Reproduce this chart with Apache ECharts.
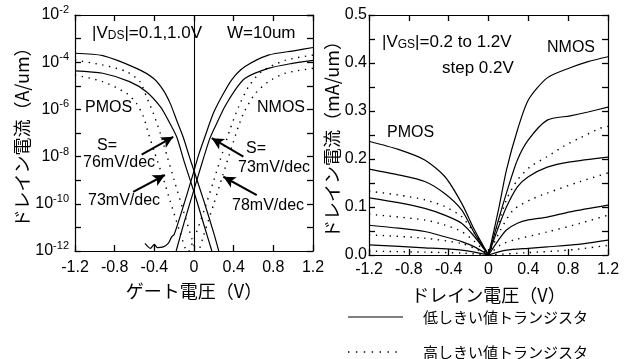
<!DOCTYPE html>
<html>
<head>
<meta charset="utf-8">
<script src="https://cdn.jsdelivr.net/npm/echarts@6/dist/echarts.min.js"></script>
<style>
  html, body { margin: 0; padding: 0; background: #fff; }
  #chart { width: 629px; height: 359px; }
</style>
</head>
<body>
<div id="chart"></div>
<script>
// ---- Transfer characteristics: drain current (A/um) vs gate voltage (V) ----
const pmosLowVd10 = [[-1.2,2.4e-4],[-0.92,1.9e-4],[-0.58,5.5e-5],[-0.41,2.1e-5],[-0.31,6.6e-6],[-0.24,1.8e-6],[-0.175,3.5e-7],[-0.11,6.9e-8],[-0.05,1.1e-8],[0,2.5e-9],[0.1,1.3e-10],[0.2,5.6e-12],[0.25,1e-12]];
const pmosLowVd01 = [[-1.2,4.3e-5],[-0.92,3.4e-5],[-0.65,1.5e-5],[-0.48,5.6e-6],[-0.34,1.3e-6],[-0.26,3.5e-7],[-0.175,6.9e-8],[-0.1,6.3e-9],[0,3.2e-10],[0.1,1.3e-11],[0.18,1e-12]];
const pmosHighVd10 = [[-1.2,1.23e-4],[-0.92,7.6e-5],[-0.68,4e-5],[-0.545,1.5e-5],[-0.48,3.5e-6],[-0.41,6.8e-7],[-0.34,9.8e-8],[-0.27,1e-8],[-0.2,1e-9],[-0.1,4e-11],[-0.02,3.2e-12],[0.02,1e-12]];
const pmosHighVd01 = [[-1.2,2.9e-5],[-0.92,1.5e-5],[-0.68,4.8e-6],[-0.58,1.8e-6],[-0.51,4.9e-7],[-0.46,9.8e-8],[-0.4,1.6e-8],[-0.32,1.6e-9],[-0.24,1.3e-10],[-0.15,7.9e-12],[-0.08,1e-12]];
const nmosLowVd10 = [[1.2,4.2e-4],[1.02,3.1e-4],[0.75,2.0e-4],[0.515,6.5e-5],[0.38,1.8e-5],[0.28,3.5e-6],[0.195,6.8e-7],[0.11,6.9e-8],[0.05,1.3e-8],[0,2.5e-9],[-0.1,1e-10],[-0.2,5e-12],[-0.225,4e-12],[-0.26,2.1e-12],[-0.31,1.5e-12],[-0.37,1.4e-12],[-0.40,1.9e-12],[-0.44,1.3e-12],[-0.495,2.1e-12]];
const nmosLowVd01 = [[1.2,1.2e-4],[0.99,8.9e-5],[0.75,5.5e-5],[0.515,2.1e-5],[0.414,6.6e-6],[0.31,1.3e-6],[0.23,2.6e-7],[0.16,5.9e-8],[0.05,2e-9],[0,4e-10],[-0.1,1.6e-11],[-0.18,1e-12]];
const nmosHighVd10 = [[1.2,2.0e-4],[0.92,1.2e-4],[0.68,4e-5],[0.55,9.1e-6],[0.45,1.3e-6],[0.36,1.3e-7],[0.29,1.6e-8],[0.2,1e-9],[0.1,5e-11],[0,3.2e-12],[-0.05,1e-12]];
const nmosHighVd01 = [[1.2,5.5e-5],[0.92,3.4e-5],[0.75,1.5e-5],[0.62,4.8e-6],[0.515,9.3e-7],[0.45,2e-7],[0.38,2.5e-8],[0.29,1.6e-9],[0.2,1e-10],[0.1,5e-12],[0.05,1e-12]];

// ---- Output characteristics: |drain current| (mA/um) vs drain voltage (V), |VGS| = 0.2..1.2 V ----
const nmosLowOut = [
  [[0,0],[0.1,0.094],[0.18,0.177],[0.29,0.26],[0.40,0.323],[0.59,0.369],[0.82,0.39],[1.0,0.403],[1.2,0.413]],
  [[0,0],[0.1,0.073],[0.18,0.129],[0.29,0.198],[0.40,0.24],[0.59,0.281],[0.82,0.29],[1.0,0.298],[1.2,0.308]],
  [[0,0],[0.1,0.058],[0.18,0.1],[0.29,0.142],[0.40,0.163],[0.59,0.183],[0.82,0.194],[1.2,0.204]],
  [[0,0],[0.1,0.031],[0.18,0.052],[0.29,0.066],[0.4,0.073],[0.59,0.079],[0.82,0.09],[1.2,0.104]],
  [[0,0],[0.18,0.01],[0.4,0.014],[0.59,0.017],[0.9,0.022],[1.2,0.031]]
];
const nmosHighOut = [
  [[0,0],[0.08,0.052],[0.18,0.115],[0.29,0.156],[0.42,0.184],[0.59,0.205],[0.75,0.226],[0.92,0.244],[1.12,0.264],[1.2,0.268]],
  [[0,0],[0.12,0.052],[0.25,0.094],[0.42,0.115],[0.59,0.129],[0.92,0.153],[1.2,0.171]],
  [[0,0],[0.12,0.021],[0.25,0.031],[0.59,0.048],[0.92,0.066],[1.2,0.083]],
  [[0,0],[0.4,0.005],[0.8,0.01],[1.2,0.02]]
];
const pmosLowOut = [
  [[-1.2,0.237],[-0.906,0.220],[-0.64,0.198],[-0.437,0.163],[-0.27,0.108],[-0.14,0.052],[0,0]],
  [[-1.2,0.179],[-0.906,0.167],[-0.64,0.153],[-0.44,0.128],[-0.27,0.094],[-0.14,0.045],[0,0]],
  [[-1.2,0.119],[-0.906,0.109],[-0.64,0.097],[-0.44,0.083],[-0.27,0.066],[-0.14,0.038],[0,0]],
  [[-1.2,0.062],[-0.906,0.056],[-0.64,0.049],[-0.44,0.038],[-0.27,0.028],[-0.14,0.017],[0,0]],
  [[-1.2,0.021],[-0.64,0.015],[-0.27,0.01],[0,0]]
];
const pmosHighOut = [
  [[-1.2,0.133],[-0.906,0.125],[-0.64,0.115],[-0.44,0.101],[-0.27,0.08],[-0.14,0.045],[0,0]],
  [[-1.2,0.085],[-0.64,0.073],[-0.44,0.0625],[-0.27,0.049],[-0.14,0.028],[0,0]],
  [[-1.2,0.042],[-0.64,0.035],[-0.27,0.024],[-0.14,0.014],[0,0]],
  [[-1.2,0.008],[-0.64,0.006],[-0.27,0.004],[0,0]]
];

// slope annotations: arrow tail/head in data coordinates (V, A/um)
const slopeArrows = [
  [[-0.528,1.2e-8],[-0.209,6.9e-8]],
  [[-0.613,3.2e-10],[-0.293,1.66e-9]],
  [[0.498,1.0e-8],[0.179,6.0e-8]],
  [[0.633,2.35e-10],[0.296,1.4e-9]]
];

const LOW = '低しきい値トランジスタ';
const HIGH = '高しきい値トランジスタ';
const FONT = '"Liberation Sans", Arial, "Noto Sans CJK JP", sans-serif';
const JFONT = '"Noto Sans CJK JP", "Liberation Sans", sans-serif';

const solid = () => ({ color: '#000', width: 1.2, type: 'solid' });
const dotted = () => ({ color: '#000', width: 1.4, type: [1.4, 5.5] });

function curve(name, data, xi, style, extra) {
  return Object.assign({
    type: 'line', name: name, data: data, xAxisIndex: xi, yAxisIndex: xi * 2,
    showSymbol: false, symbol: 'none', smooth: 0.25, lineStyle: style,
    itemStyle: { color: '#000' }, silent: true, animation: false, clip: true
  }, extra || {});
}

const series = [];
series.push(curve(LOW, pmosLowVd10, 0, solid(), {
  markLine: {
    silent: true, symbol: 'none', animation: false,
    label: { show: false },
    lineStyle: { color: '#000', width: 1.1, type: 'solid' },
    data: [{ xAxis: 0 }]
  }
}));
series.push(curve(LOW, pmosLowVd01, 0, solid()));
series.push(curve(HIGH, pmosHighVd10, 0, dotted()));
series.push(curve(HIGH, pmosHighVd01, 0, dotted()));
series.push(curve(LOW, nmosLowVd10, 0, solid()));
series.push(curve(LOW, nmosLowVd01, 0, solid(), {
  markLine: {
    silent: true, symbol: ['none', 'arrow'], symbolSize: [9, 12], animation: false,
    label: { show: false },
    lineStyle: { color: '#000', width: 2, type: 'solid' },
    data: slopeArrows.map(a => [{ coord: a[0] }, { coord: a[1] }])
  }
}));
series.push(curve(HIGH, nmosHighVd10, 0, dotted()));
series.push(curve(HIGH, nmosHighVd01, 0, dotted()));
[nmosLowOut, pmosLowOut].forEach(g => g.forEach(d => series.push(curve(LOW, d, 1, solid()))));
[nmosHighOut, pmosHighOut].forEach(g => g.forEach(d => series.push(curve(HIGH, d, 1, dotted()))));

const axLine = () => ({ show: true, onZero: false, lineStyle: { color: '#000', width: 1.2 } });
const tickIn = () => ({ show: true, inside: true, length: 6, lineStyle: { color: '#000', width: 1.3 } });
const labelStyle = { color: '#000', fontFamily: FONT, fontSize: 16 };

function xAx(gi, pos, show, margin, name) {
  return {
    type: 'value', gridIndex: gi, position: pos, min: -1.2, max: 1.2, interval: 0.4,
    axisLine: axLine(), axisTick: tickIn(), splitLine: { show: false },
    axisLabel: Object.assign({ show: show, margin: margin,
      formatter: v => String(Math.round(v * 10) / 10) }, labelStyle),
    name: name || '', nameLocation: 'middle', nameGap: 31,
    nameTextStyle: { color: '#000', fontFamily: JFONT, fontSize: 18 }
  };
}

const legendText = { fontSize: 15, fontFamily: JFONT, fill: '#000', verticalAlign: 'middle' };
const subRich = (size) => ({
  a: { fontSize: size, lineHeight: size, fontFamily: FONT, fill: '#000', verticalAlign: 'bottom' },
  s: { fontSize: 12, lineHeight: 12, fontFamily: FONT, fill: '#000', verticalAlign: 'bottom' }
});
const txt = (x, y, t, size) => ({ type: 'text', x: x, y: y,
  style: { text: t, font: (size || 16) + 'px ' + FONT, fill: '#000', verticalAlign: 'middle' } });

const option = {
  backgroundColor: '#fff',
  animation: false,
  textStyle: { fontFamily: FONT },
  grid: [
    { left: 75, top: 15, width: 238, height: 236 },
    { left: 369, top: 15, width: 239, height: 240 }
  ],
  xAxis: [
    xAx(0, 'bottom', true, 9, 'ゲート電圧（V）'),
    xAx(1, 'bottom', true, 7, 'ドレイン電圧（V）'),
    xAx(0, 'top', false, 8),
    xAx(1, 'top', false, 8)
  ],
  yAxis: [
    {
      type: 'log', logBase: 10, gridIndex: 0, min: 1e-12, max: 1e-2, splitNumber: 10,
      axisLine: axLine(), axisTick: tickIn(), splitLine: { show: false },
      minorTick: { show: false },
      axisLabel: {
        margin: 6, color: '#000', fontFamily: FONT,
        formatter: v => {
          const e = Math.round(Math.log10(v));
          return (e % 2 === 0) ? '{b|10}{s|' + e + '}' : '';
        },
        rich: {
          b: { fontSize: 16, fontFamily: FONT, color: '#000' },
          s: { fontSize: 11, fontFamily: FONT, color: '#000', padding: [0, 0, 10, 0] }
        }
      },
      name: 'ドレイン電流（A/um）', nameLocation: 'middle', nameGap: 42, nameRotate: 90,
      nameTextStyle: { color: '#000', fontFamily: JFONT, fontSize: 18 }
    },
    {
      type: 'log', logBase: 10, gridIndex: 0, position: 'right', min: 1e-12, max: 1e-2, splitNumber: 10,
      axisLine: axLine(), axisTick: tickIn(), splitLine: { show: false },
      axisLabel: { show: false }
    },
    {
      type: 'value', gridIndex: 1, min: 0, max: 0.5, interval: 0.05,
      axisLine: axLine(), axisTick: tickIn(), splitLine: { show: false },
      axisLabel: Object.assign({ margin: 2,
        formatter: v => (Math.round(v * 100) % 10 === 0) ? v.toFixed(1) : '' }, labelStyle),
      name: 'ドレイン電流（mA/um）', nameLocation: 'middle', nameGap: 27, nameRotate: 90,
      nameTextStyle: { color: '#000', fontFamily: JFONT, fontSize: 18 }
    },
    {
      type: 'value', gridIndex: 1, position: 'right', min: 0, max: 0.5, interval: 0.05,
      axisLine: axLine(), axisTick: tickIn(), splitLine: { show: false },
      axisLabel: { show: false }
    }
  ],
  graphic: [
    { type: 'text', x: 92, y: 33, style: { text: '{a||V}{s|DS}{a||=0.1,1.0V}', verticalAlign: 'middle', rich: subRich(17) } },
    txt(227, 33, 'W=10um', 17),
    txt(85, 108, 'PMOS'),
    txt(257, 108, 'NMOS'),
    txt(97, 146, 'S='),
    txt(83, 163, '76mV/dec'),
    txt(246, 149, 'S='),
    txt(238, 168, '73mV/dec'),
    txt(88, 201, '73mV/dec'),
    txt(232, 206, '78mV/dec'),
    { type: 'text', x: 382, y: 42, style: { text: '{a||V}{s|GS}{a||=0.2 to 1.2V}', verticalAlign: 'middle', rich: subRich(17) } },
    txt(442, 68, 'step 0.2V', 17),
    txt(547, 48, 'NMOS'),
    txt(387, 133, 'PMOS'),
    // legend keys
    { type: 'line', shape: { x1: 348, y1: 317, x2: 403, y2: 317 }, style: { stroke: '#000', lineWidth: 1.2 } },
    { type: 'line', shape: { x1: 348, y1: 352, x2: 403, y2: 352 }, style: { stroke: '#000', lineWidth: 1.4, lineDash: [1.4, 6.5] } },
    { type: 'text', x: 423, y: 317, style: Object.assign({ text: LOW }, legendText) },
    { type: 'text', x: 423, y: 352, style: Object.assign({ text: HIGH }, legendText) }
  ],
  series: series
};

const chart = echarts.init(document.getElementById('chart'), null, { renderer: 'canvas' });
chart.setOption(option);
</script>
</body>
</html>
